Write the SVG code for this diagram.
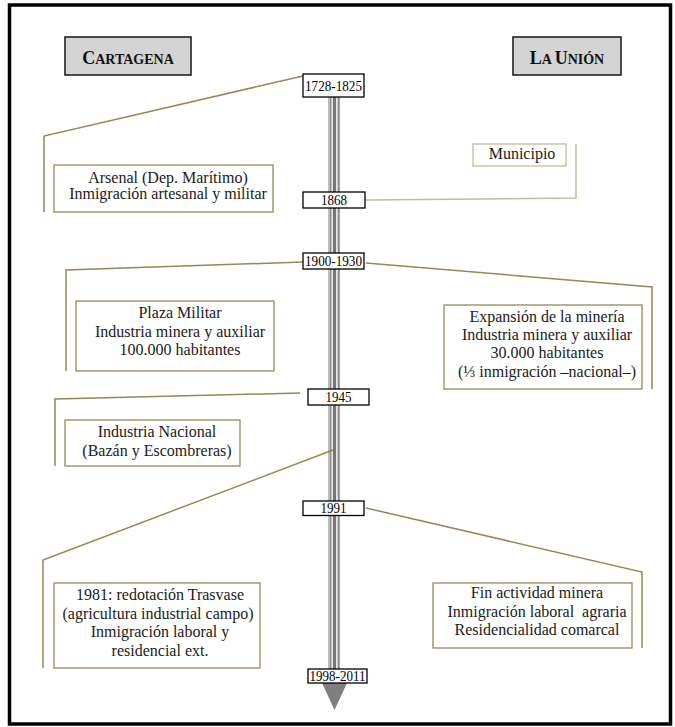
<svg xmlns="http://www.w3.org/2000/svg" width="675" height="727" viewBox="0 0 675 727">
<style>
.t{font-family:"Liberation Serif","Times New Roman",serif;font-size:16px;fill:#1a1a1a;text-anchor:middle}
.d{font-family:"Liberation Serif","Times New Roman",serif;font-size:15px;fill:#000;text-anchor:middle}
.h{font-family:"Liberation Serif","Times New Roman",serif;font-weight:bold;fill:#111;text-anchor:middle}
.box{fill:#fff;stroke:#948a54;stroke-width:1.3}
.dbox{fill:#fff;stroke:#000;stroke-width:1.3}
.hbox{fill:#d4d4d4;stroke:#222;stroke-width:1.6}
.c{fill:none;stroke:#948a54;stroke-width:1.5}
</style>
<rect x="9.5" y="5" width="661" height="719" fill="#fff" stroke="#000" stroke-width="3.5"/>
<g id="timeline">
<rect x="328" y="97" width="12" height="586" fill="#bdbdbd"/>
<rect x="330" y="97" width="1.5" height="586" fill="#8a8a8a"/>
<rect x="331.5" y="97" width="1.5" height="586" fill="#e6e6e6"/>
<rect x="333" y="97" width="3" height="586" fill="#787878"/>
<rect x="336" y="97" width="1.5" height="586" fill="#e6e6e6"/>
<rect x="338" y="97" width="1.5" height="586" fill="#8a8a8a"/>
<polygon points="322,683 347,683 334.5,710" fill="#7f7f7f"/>
</g>
<g id="connectors">
<polyline class="c" points="303,76 44,136 44,212"/>
<polyline class="c" points="365,200 576,198 576,144" stroke="#c9c3a5" style="stroke:#c4bd97"/>
<polyline class="c" points="303,262 66,270 66,371"/>
<polyline class="c" points="366,263 652,287 652,389"/>
<polyline class="c" points="300,393 55,399 55,466"/>
<polyline class="c" points="333,450 43,560 43,668"/>
<polyline class="c" points="366,508 642,572 642,648"/>
</g>
<g id="cartagena">
<rect class="hbox" x="65" y="37" width="126" height="38"/>
<text class="h" x="128" y="64"><tspan font-size="18">C</tspan><tspan font-size="14">ARTAGENA</tspan></text>
</g>
<g id="launion">
<rect class="hbox" x="513" y="37" width="108" height="38"/>
<text class="h" x="567" y="64"><tspan font-size="18">L</tspan><tspan font-size="14">A </tspan><tspan font-size="18">U</tspan><tspan font-size="14">NIÓN</tspan></text>
</g>
<g id="d1728">
<rect class="dbox" x="303" y="74" width="61" height="23"/>
<text class="d" x="333.5" y="91" textLength="57" lengthAdjust="spacingAndGlyphs">1728-1825</text>
</g>
<g id="arsenal">
<rect class="box" x="54" y="165" width="219" height="47"/>
<text class="t" x="168" y="183">Arsenal (Dep. Marítimo)</text>
<text class="t" x="168" y="199">Inmigración artesanal y militar</text>
</g>
<g id="municipio">
<rect class="box" x="473" y="144" width="93" height="22" style="stroke:#c4bd97"/>
<text class="t" x="522" y="159">Municipio</text>
</g>
<g id="d1868">
<rect class="dbox" x="303" y="192" width="62" height="16"/>
<text class="d" x="334" y="205" textLength="26" lengthAdjust="spacingAndGlyphs">1868</text>
</g>
<g id="d1900">
<rect class="dbox" x="303" y="253" width="61" height="16"/>
<text class="d" x="333.5" y="266" textLength="57" lengthAdjust="spacingAndGlyphs">1900-1930</text>
</g>
<g id="plaza">
<rect class="box" x="76" y="301" width="198" height="70"/>
<text class="t" x="180" y="318">Plaza Militar</text>
<text class="t" x="180" y="337">Industria minera y auxiliar</text>
<text class="t" x="180" y="355">100.000 habitantes</text>
</g>
<g id="expansion">
<rect class="box" x="444" y="305" width="198" height="84"/>
<text class="t" x="547" y="322">Expansión de la minería</text>
<text class="t" x="547" y="340">Industria minera y auxiliar</text>
<text class="t" x="547" y="358">30.000 habitantes</text>
<text class="t" x="547" y="377">(⅓ inmigración –nacional–)</text>
</g>
<g id="d1945">
<rect class="dbox" x="308" y="389" width="61" height="16"/>
<text class="d" x="338.5" y="402" textLength="26" lengthAdjust="spacingAndGlyphs">1945</text>
</g>
<g id="nacional">
<rect class="box" x="65" y="420" width="175" height="46"/>
<text class="t" x="157" y="437">Industria Nacional</text>
<text class="t" x="157" y="456">(Bazán y Escombreras)</text>
</g>
<g id="d1991">
<rect class="dbox" x="303" y="501" width="61" height="14.5"/>
<text class="d" x="333.5" y="513" textLength="26" lengthAdjust="spacingAndGlyphs">1991</text>
</g>
<g id="trasvase">
<rect class="box" x="54" y="583" width="206" height="85"/>
<text class="t" x="160" y="600">1981: redotación Trasvase</text>
<text class="t" x="158" y="619">(agricultura industrial campo)</text>
<text class="t" x="160" y="637">Inmigración laboral y</text>
<text class="t" x="160" y="656">residencial ext.</text>
</g>
<g id="fin">
<rect class="box" x="433" y="583" width="199" height="65"/>
<text class="t" x="537" y="598">Fin actividad minera</text>
<text class="t" x="537" y="617" xml:space="preserve">Inmigración laboral  agraria</text>
<text class="t" x="537" y="635">Residencialidad comarcal</text>
</g>
<g id="d1998">
<rect class="dbox" x="308" y="669" width="59" height="14"/>
<text class="d" x="337.5" y="681" textLength="56" lengthAdjust="spacingAndGlyphs">1998-2011</text>
</g>
</svg>
